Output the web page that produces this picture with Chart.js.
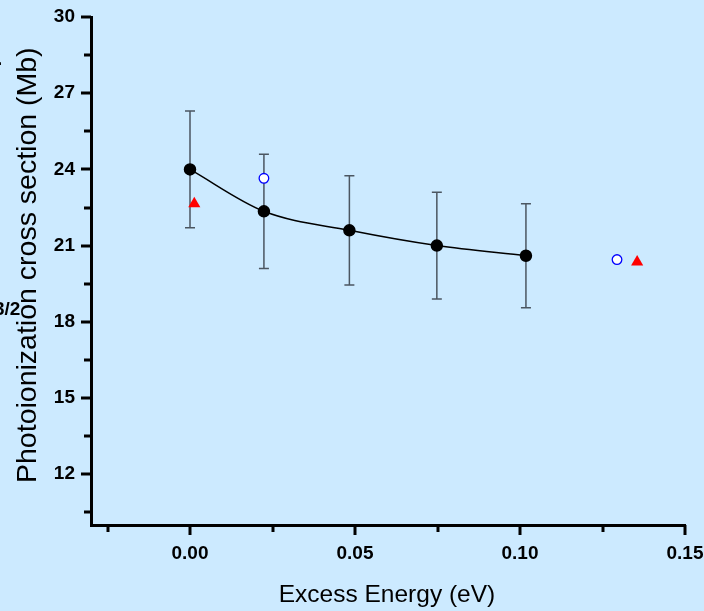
<!DOCTYPE html>
<html>
<head>
<meta charset="utf-8">
<script src="https://cdn.jsdelivr.net/npm/chart.js@4.4.1/dist/chart.umd.min.js"></script>
<style>
html,body{margin:0;padding:0;background:#cceaff;}
#wrap{width:704px;height:611px;}
</style>
</head>
<body>
<div id="wrap"><canvas id="myChart"></canvas></div>
<script>
// measured cross sections with error bars
var energy=[0,0.0224,0.0483,0.0748,0.1018];
var sigma=[24.0,22.35,21.6,21.0,20.6];
var sigmaErr=[2.3,2.25,2.15,2.1,2.05];
// other determinations
var openEnergy=[0.0224,0.1294];
var openSigma=[23.65,20.45];
var triEnergy=[0.0013,0.1355];
var triSigma=[22.65,20.35];
// axis ticks (minor ones carry no label)
var xTicks=[-0.025,0,0.025,0.05,0.075,0.1,0.125,0.15];
var xMajor=[0,0.05,0.1,0.15];
var yTicks=[10.5,12,13.5,15,16.5,18,19.5,21,22.5,24,25.5,27,28.5,30];
var yMajor=[12,15,18,21,24,27,30];

function pts(xs,ys){return xs.map(function(v,i){return {x:v,y:ys[i]};});}
function isMajor(list,v){return list.some(function(m){return Math.abs(m-v)<1e-9;});}

var bg='#cceaff';
var font='"Liberation Sans", Arial, sans-serif';

var decor={
    id:'decor',
    beforeDraw:function(chart){
        var c=chart.ctx;
        c.save();c.fillStyle=bg;c.fillRect(0,0,chart.width,chart.height);c.restore();
    },
    beforeDatasetsDraw:function(chart){
        var c=chart.ctx,xs=chart.scales.x,ys=chart.scales.y;
        c.save();
        c.strokeStyle='#4b5661';c.lineWidth=1.5;
        energy.forEach(function(e,i){
            var px=xs.getPixelForValue(e);
            var t=ys.getPixelForValue(sigma[i]+sigmaErr[i]);
            var b=ys.getPixelForValue(sigma[i]-sigmaErr[i]);
            c.beginPath();
            c.moveTo(px,t);c.lineTo(px,b);
            c.moveTo(px-5,t);c.lineTo(px+5,t);
            c.moveTo(px-5,b);c.lineTo(px+5,b);
            c.stroke();
        });
        c.restore();
    },
    afterDraw:function(chart){
        var c=chart.ctx,xs=chart.scales.x,ys=chart.scales.y,a=chart.chartArea;
        c.save();
        c.strokeStyle='#000';c.lineWidth=3;
        c.beginPath();
        xTicks.forEach(function(v){
            var px=Math.round(xs.getPixelForValue(v));
            var len=isMajor(xMajor,v)?9:6;
            c.moveTo(px,a.bottom);c.lineTo(px,a.bottom+len+1);
        });
        yTicks.forEach(function(v){
            var py=Math.round(ys.getPixelForValue(v));
            var len=isMajor(yMajor,v)?9:6;
            c.moveTo(a.left,py);c.lineTo(a.left-len-1,py);
        });
        c.stroke();

        c.fillStyle='#000';
        c.font='24.5px '+font;
        c.textAlign='center';c.textBaseline='alphabetic';
        c.fillText('Excess Energy (eV)',387,602);

        c.save();
        c.translate(36,483);
        c.rotate(-Math.PI/2);
        c.textAlign='left';
        c.font='28.5px '+font;
        c.fillText('Photoionization cross section (Mb)',0,0);
        c.restore();

        // clipped fragments at the left edge
        c.font='bold 19px '+font;
        c.textAlign='left';
        c.fillText('3/2',-6,315);
        c.fillText('.',-3,65);
        c.restore();
    }
};

var ctx=document.getElementById('myChart').getContext('2d');
var myChart=new Chart(ctx,{
    type:'line',
    data:{
        datasets:[
            {data:pts(energy,sigma),borderColor:'#000',borderWidth:1.5,
             backgroundColor:'#000',pointRadius:5.5,pointHoverRadius:5.5,
             cubicInterpolationMode:'monotone',showLine:true},
            {data:pts(openEnergy,openSigma),showLine:false,pointStyle:'circle',
             pointRadius:4.8,pointBorderWidth:1.3,pointBorderColor:'#0000ff',
             pointBackgroundColor:'#ffffff'},
            {data:pts(triEnergy,triSigma),showLine:false,pointStyle:'triangle',
             pointRadius:7,pointBorderWidth:0,pointBorderColor:'#ff0000',
             pointBackgroundColor:'#ff0000'}
        ]
    },
    options:{
        responsive:true,
        maintainAspectRatio:false,
        animation:false,
        layout:{padding:{top:17,right:19,left:0,bottom:0}},
        plugins:{legend:{display:false},tooltip:{enabled:false}},
        scales:{
            x:{
                type:'linear',min:-0.03,max:0.15,
                afterBuildTicks:function(s){s.ticks=xTicks.map(function(v){return {value:v};});},
                afterFit:function(s){s.height=86;s.paddingLeft=0;s.paddingRight=0;},
                grid:{display:false,drawTicks:false},
                border:{display:true,color:'#000',width:3},
                ticks:{color:'#000',padding:17,maxRotation:0,autoSkip:false,
                    font:{family:font,weight:'bold',size:19},
                    callback:function(v){return isMajor(xMajor,v)?v.toFixed(2):'';}}
            },
            y:{
                type:'linear',min:10,max:30,
                afterBuildTicks:function(s){s.ticks=yTicks.map(function(v){return {value:v};});},
                afterFit:function(s){s.width=91;s.paddingTop=0;s.paddingBottom=0;},
                grid:{display:false,drawTicks:false},
                border:{display:true,color:'#000',width:3},
                ticks:{color:'#000',padding:16,autoSkip:false,
                    font:{family:font,weight:'bold',size:19},
                    callback:function(v){return isMajor(yMajor,v)?String(v):'';}}
            }
        }
    },
    plugins:[decor]
});
</script>
</body>
</html>
